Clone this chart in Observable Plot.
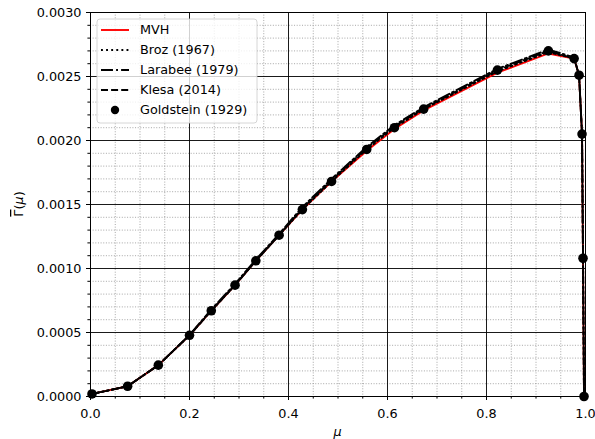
<!DOCTYPE html>
<html>
<head>
<meta charset="utf-8">
<script src="https://cdn.jsdelivr.net/npm/d3@7"></script>
<script src="https://cdn.jsdelivr.net/npm/@observablehq/plot@0.6"></script>
<style>
  body { margin: 0; background: #fff; }
  #wrap { position: relative; width: 595px; height: 439px; font-family: "DejaVu Sans", sans-serif; }
  #wrap svg { display: block; }
</style>
</head>
<body>
<div id="wrap"></div>
<script>
// Cosine of scattering angle
const mu = [0.003, 0.075, 0.137, 0.200, 0.244, 0.292, 0.334, 0.381, 0.428, 0.487,
            0.558, 0.614, 0.673, 0.822, 0.925, 0.977, 0.987, 0.993, 0.995, 0.997];

// Goldstein (1929) reference points
const goldstein = [0.00002, 0.00008, 0.000245, 0.000478, 0.00067, 0.00087, 0.00106, 0.00126, 0.00146, 0.00168,
                   0.00193, 0.00210, 0.002245, 0.00255, 0.00270, 0.00264, 0.00251, 0.00205, 0.00108, 0.0];

// Model curves
const mvh     = [0.00002, 0.00008, 0.000245, 0.000478, 0.00067, 0.00087, 0.00106, 0.00126, 0.00146, 0.00168,
                 0.00192, 0.00209, 0.002235, 0.00253, 0.00268, 0.00264, 0.00251, 0.00205, 0.00108, 0.0];
const broz    = [0.00002, 0.00008, 0.000245, 0.000478, 0.00067, 0.00087, 0.00106, 0.00126, 0.00146, 0.00168,
                 0.00193, 0.00210, 0.002245, 0.00254, 0.00269, 0.00264, 0.00251, 0.00205, 0.00108, 0.0];
const larabee = [0.00002, 0.00008, 0.000245, 0.000480, 0.00068, 0.00088, 0.00107, 0.00127, 0.00148, 0.00170,
                 0.00195, 0.00212, 0.00226, 0.00256, 0.00271, 0.00265, 0.00251, 0.00205, 0.00108, 0.0];
const klesa   = [0.00002, 0.00008, 0.000245, 0.000478, 0.00067, 0.00087, 0.00106, 0.00126, 0.00147, 0.00169,
                 0.00194, 0.00211, 0.00225, 0.00255, 0.00270, 0.00264, 0.00251, 0.00205, 0.00108, 0.0];

const seriesNames = ["MVH", "Broz (1967)", "Larabee (1979)", "Klesa (2014)", "Goldstein (1929)"];

// Axis ticks
const xMajor = [0, 0.2, 0.4, 0.6, 0.8, 1.0];
const xMinor = [0.05, 0.1, 0.15, 0.25, 0.3, 0.35, 0.45, 0.5, 0.55, 0.65, 0.7, 0.75, 0.85, 0.9, 0.95];
const yMajor = [0, 0.0005, 0.0010, 0.0015, 0.0020, 0.0025, 0.0030];
const yMinor = [0.0001, 0.0002, 0.0003, 0.0004, 0.0006, 0.0007, 0.0008, 0.0009,
                0.0011, 0.0012, 0.0013, 0.0014, 0.0016, 0.0017, 0.0018, 0.0019,
                0.0021, 0.0022, 0.0023, 0.0024, 0.0026, 0.0027, 0.0028, 0.0029];

const LW = 1.9;
const styles = [
  {stroke: "#ff0000", dash: null},
  {stroke: "#000", dash: "1.9,3.2"},
  {stroke: "#000", dash: "12,3.1,1.9,3.1"},
  {stroke: "#000", dash: "7,3.1"}
];
const curves = [mvh, broz, larabee, klesa];
const lineData = curves.map(c => mu.map((m, i) => ({mu: m, v: c[i]})));
const goldData = mu.map((m, i) => ({mu: m, v: goldstein[i]}));

const W = 595, H = 439, ML = 90, MR = 10, MT = 12, MB = 43;

const chart = Plot.plot({
  width: W, height: H,
  marginLeft: ML, marginRight: MR, marginTop: MT, marginBottom: MB,
  style: {fontFamily: "DejaVu Sans, sans-serif", fontSize: "12.8px", color: "#000", background: "#fff", overflow: "visible"},
  x: {domain: [0, 1]},
  y: {domain: [0, 0.003]},
  marks: [
    Plot.ruleX(xMinor, {stroke: "#909090", strokeWidth: 0.8, strokeDasharray: "1,1.65"}),
    Plot.ruleY(yMinor, {stroke: "#909090", strokeWidth: 0.8, strokeDasharray: "1,1.65"}),
    Plot.ruleX(xMajor, {stroke: "#000", strokeWidth: 0.9}),
    Plot.ruleY(yMajor, {stroke: "#000", strokeWidth: 0.9}),
    ...lineData.map((d, i) => Plot.line(d, {
      x: "mu", y: "v", stroke: styles[i].stroke, strokeWidth: LW,
      strokeDasharray: styles[i].dash, strokeLinejoin: "round"
    })),
    Plot.dot(goldData, {x: "mu", y: "v", r: 4.8, fill: "#000", stroke: "none"}),
    Plot.frame({stroke: "#000", strokeWidth: 1}),
    Plot.axisX({ticks: xMinor, tickSize: 2.6, tickFormat: () => "", label: null}),
    Plot.axisY({ticks: yMinor, tickSize: 2.6, tickFormat: () => "", label: null}),
    Plot.axisX({ticks: xMajor, tickSize: 4, tickPadding: 8, tickFormat: d3.format(".1f"), label: null}),
    Plot.axisY({ticks: yMajor, tickSize: 4, tickPadding: 5, tickFormat: d3.format(".4f"), label: null})
  ]
});

const wrap = document.getElementById("wrap");
wrap.appendChild(chart);

// Axis titles
const svg = d3.select(chart);
const xt = svg.append("text")
  .attr("x", ML + (W - ML - MR) / 2).attr("y", 436)
  .attr("text-anchor", "middle").attr("font-size", 12.8).attr("fill", "#000");
xt.append("tspan").attr("font-style", "italic").text("μ");

const yt = svg.append("text")
  .attr("transform", `translate(23,${MT + (H - MT - MB) / 2}) rotate(-90)`)
  .attr("text-anchor", "middle").attr("font-size", 12.8).attr("fill", "#000");
yt.append("tspan").attr("text-decoration", "overline").style("text-decoration", "overline").text("Γ");
yt.append("tspan").text("(");
yt.append("tspan").attr("font-style", "italic").text("μ");
yt.append("tspan").text(")");

// Legend
const lg = svg.append("g").attr("transform", "translate(97,19)").attr("text-anchor", "start");
lg.append("rect").attr("width", 160).attr("height", 104).attr("rx", 3)
  .attr("fill", "rgba(255,255,255,0.8)").attr("stroke", "#cccccc").attr("stroke-width", 0.8);
seriesNames.forEach((name, i) => {
  const cy = 11 + i * 20;
  if (i < 4) {
    lg.append("line").attr("x1", 4).attr("x2", 32).attr("y1", cy).attr("y2", cy)
      .attr("stroke", styles[i].stroke).attr("stroke-width", LW)
      .attr("stroke-dasharray", styles[i].dash);
  } else {
    lg.append("circle").attr("cx", 18).attr("cy", cy).attr("r", 4.2).attr("fill", "#000");
  }
  lg.append("text").attr("x", 43).attr("y", cy).attr("dy", "0.35em")
    .attr("text-anchor", "start")
    .attr("font-size", 12.8).attr("fill", "#000").text(name);
});
</script>
</body>
</html>
